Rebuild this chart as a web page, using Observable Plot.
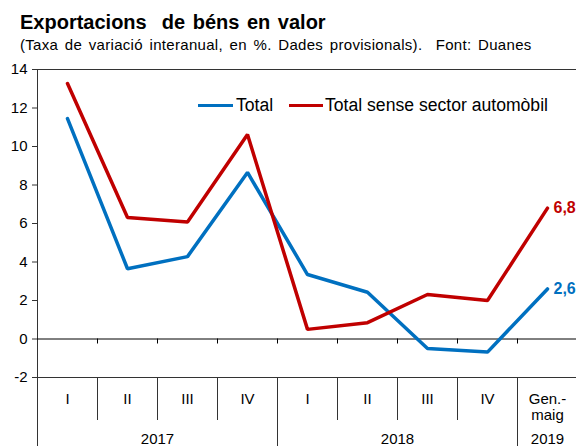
<!DOCTYPE html>
<html>
<head>
<meta charset="utf-8">
<script src="https://cdn.jsdelivr.net/npm/d3@7"></script>
<script src="https://cdn.jsdelivr.net/npm/@observablehq/plot@0.6"></script>
<style>
  body { margin: 0; background: #fff; font-family: "Liberation Sans", Arial, sans-serif; color: #000; }
  #wrap { position: relative; width: 576px; height: 446px; overflow: hidden; }
  #head { position: relative; height: 55px; }
  #title { position: absolute; left: 20px; top: 12px; font-size: 20px; font-weight: bold; line-height: 20px; white-space: pre; word-spacing: 2px; }
  #sub { position: absolute; left: 20px; top: 37px; font-size: 15px; line-height: 15px; white-space: pre; letter-spacing: 0.3px; word-spacing: 2.2px; }
  .sw { position: absolute; height: 3px; top: 103.5px; }
  .lt { position: absolute; top: 96px; font-size: 17.6px; line-height: 18px; white-space: pre; }
  svg { display: block; }
</style>
</head>
<body>
<div id="wrap">
  <div id="head">
    <div id="title">Exportacions  de béns en valor</div>
    <div id="sub">(Taxa de variació interanual, en %. Dades provisionals).  Font: Duanes</div>
  </div>
</div>
<script>
// ---- data ----
const categories = ["I", "II", "III", "IV", "I", "II", "III", "IV", "Gen.-\nmaig"];
const years = ["2017", "2017", "2017", "2017", "2018", "2018", "2018", "2018", "2019"];
const total = [11.45, 3.65, 4.28, 8.65, 3.35, 2.43, -0.49, -0.68, 2.6];
const totalSenseAuto = [13.27, 6.31, 6.08, 10.62, 0.5, 0.85, 2.31, 2.0, 6.8];
const seriesNames = ["Total", "Total sense sector automòbil"];
const seriesColors = ["#0070C0", "#C00000"];
const yTicks = [-2, 0, 2, 4, 6, 8, 10, 12, 14];

// ---- derived tables ----
const idx = categories.map((c, i) => i);
const rows = [];
[total, totalSenseAuto].forEach((vals, s) => {
  vals.forEach((v, i) => rows.push({ i, value: v, series: seriesNames[s] }));
});
const lastRows = rows.filter(d => d.i === categories.length - 1);
const bounds = idx.slice(0, -1).map(i => i + 0.5);
const yearList = Array.from(new Set(years));
const yearBounds = [-0.5].concat(
  idx.slice(0, -1).filter(i => years[i] !== years[i + 1]).map(i => i + 0.5)
);
const yearGroups = yearList.map(y => {
  const ii = idx.filter(i => years[i] === y);
  return { year: y, center: d3.mean(ii) };
});
const yMin = yTicks[0], yMax = yTicks[yTicks.length - 1];
const fmt = v => v.toFixed(1).replace(".", ",");

const chart = Plot.plot({
  width: 576,
  height: 391,
  marginTop: 14,
  marginBottom: 69,
  marginLeft: 37,
  marginRight: 0,
  style: { fontFamily: "Liberation Sans, Arial, sans-serif", color: "#000", background: "#fff" },
  x: { domain: [-0.5, categories.length - 0.5], range: [37, 577], axis: null },
  y: { domain: [yMin, yMax], axis: null },
  color: { domain: seriesNames, range: seriesColors },
  marks: [
    Plot.frame({ stroke: "#333" }),
    Plot.ruleY([0], { stroke: "#000" }),
    Plot.ruleX(bounds, { x: d => d, y1: 0, y2: 0, insetBottom: -5, stroke: "#000" }),
    Plot.ruleX(bounds, { x: d => d, y1: yMin, y2: yMin, insetBottom: -43, stroke: "#333" }),
    Plot.ruleX(yearBounds, { x: d => d, y1: yMin, y2: yMin, insetBottom: -69, stroke: "#333" }),
    Plot.axisY({ ticks: yTicks, tickFormat: d => String(d), tickSize: 5, tickPadding: 5, fontSize: 15, label: null, stroke: "#333" }),
    Plot.text(idx, { x: i => i, text: i => categories[i], frameAnchor: "bottom", lineAnchor: "top", dy: 14, fontSize: 15, lineHeight: 1.13, fill: "#000" }),
    Plot.text(yearGroups, { x: "center", text: "year", frameAnchor: "bottom", lineAnchor: "middle", dy: 62, fontSize: 15, fill: "#000" }),
    Plot.line(rows, { x: "i", y: "value", z: "series", stroke: "series", strokeWidth: 3.5, strokeLinejoin: "miter" }),
    Plot.text(lastRows, { x: "i", y: "value", text: d => fmt(d.value), fill: "series", dx: 6, textAnchor: "start", fontWeight: "bold", fontSize: 16 })
  ]
});

const wrap = document.getElementById("wrap");
wrap.appendChild(chart);

// legend
const legendItems = [
  { name: seriesNames[0], color: seriesColors[0], swLeft: 198, swWidth: 35, textLeft: 236 },
  { name: seriesNames[1], color: seriesColors[1], swLeft: 289, swWidth: 34, textLeft: 325 }
];
legendItems.forEach(it => {
  const sw = document.createElement("div");
  sw.className = "sw";
  sw.style.left = it.swLeft + "px";
  sw.style.width = it.swWidth + "px";
  sw.style.background = it.color;
  wrap.appendChild(sw);
  const t = document.createElement("div");
  t.className = "lt";
  t.style.left = it.textLeft + "px";
  t.textContent = it.name;
  wrap.appendChild(t);
});
</script>
</body>
</html>
